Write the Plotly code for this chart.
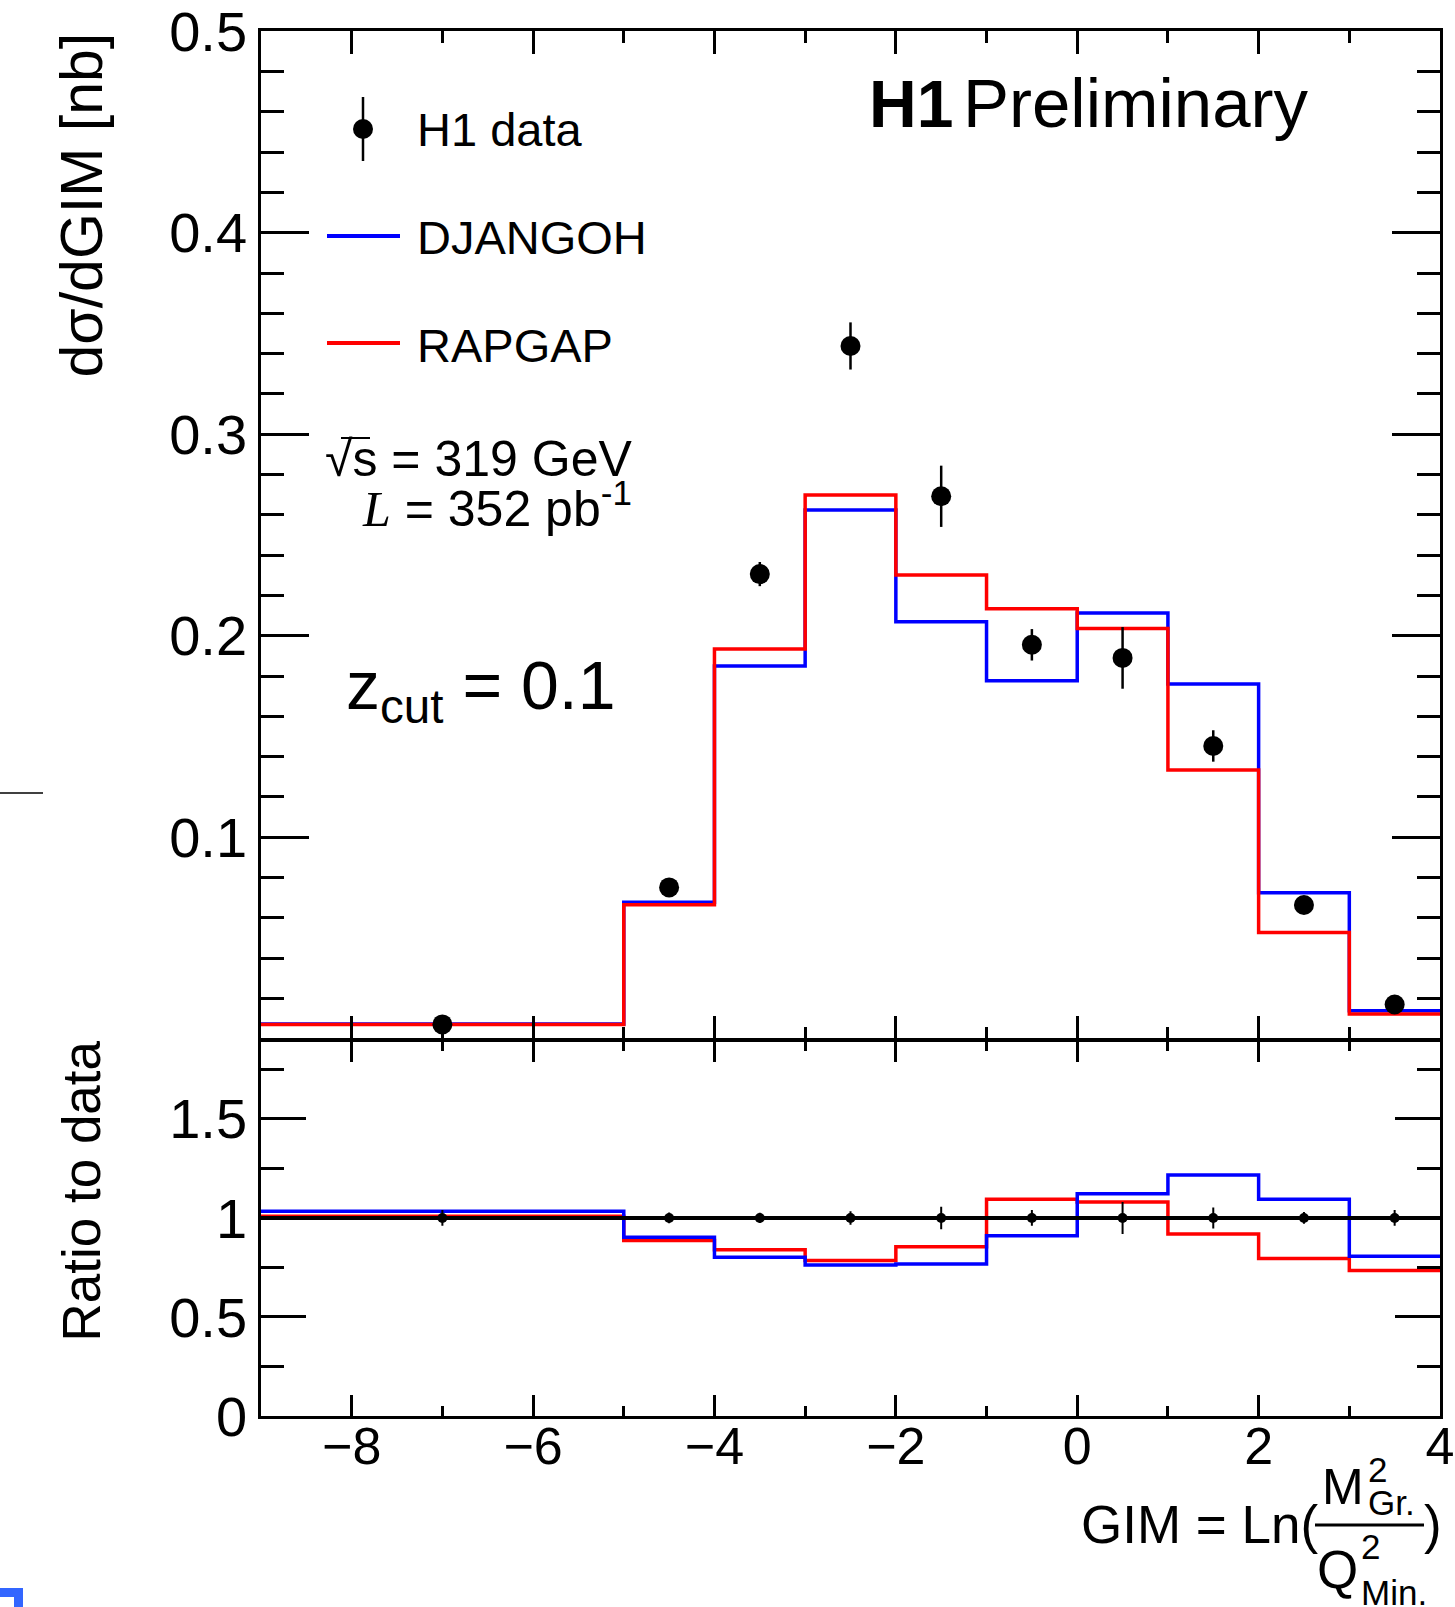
import plotly.graph_objects as go

# ---------------- data ----------------
bin_edges = [-9, -5, -4, -3, -2, -1, 0, 1, 2, 3, 4]
data_x = [-7, -4.5, -3.5, -2.5, -1.5, -0.5, 0.5, 1.5, 2.5, 3.5]
data_y = [0.0071, 0.0751, 0.2306, 0.3438, 0.2692, 0.1955, 0.1890, 0.1453, 0.0664, 0.0170]
data_err = [0.0003, 0.0020, 0.0060, 0.0117, 0.0152, 0.0078, 0.0153, 0.0078, 0.0020, 0.0007]
djangoh_y = [0.0073, 0.0677, 0.1850, 0.2624, 0.2069, 0.1776, 0.2113, 0.1761, 0.0725, 0.0139]
rapgap_y = [0.0071, 0.0665, 0.1934, 0.2698, 0.2301, 0.2134, 0.2036, 0.1334, 0.0527, 0.0123]
ratio_djangoh = [1.034, 0.903, 0.802, 0.762, 0.768, 0.910, 1.122, 1.217, 1.094, 0.806]
ratio_rapgap = [1.009, 0.886, 0.839, 0.785, 0.854, 1.094, 1.080, 0.919, 0.795, 0.734]
ratio_data = [1.0, 1.0, 1.0, 1.0, 1.0, 1.0, 1.0, 1.0, 1.0, 1.0]
ratio_err = [0.040, 0.027, 0.026, 0.034, 0.057, 0.040, 0.081, 0.053, 0.030, 0.040]

upper_ytick_vals = [0.1, 0.2, 0.3, 0.4, 0.5]
upper_ytick_text = ["0.1", "0.2", "0.3", "0.4", "0.5"]
lower_ytick_vals = [0, 0.5, 1, 1.5]
lower_ytick_text = ["0", "0.5", "1", "1.5"]

# ---------------- geometry ----------------
W, H = 1455, 1607
L, R, T, B = 261, 15, 31, 191
PW, PH = W - L - R, H - T - B
SPLIT_Y = 1040
LW = 2.5
split = (H - B - SPLIT_Y) / PH
half = (LW / 2) / PH


def px(X):
    return (X - L) / PW


def py(Y):
    return (H - B - Y) / PH


FONT = "Liberation Sans, Arial, Helvetica, sans-serif"
BLUE = "#0000ff"
RED = "#ff0000"


def step(vals):
    return vals + [vals[-1]]


fig = go.Figure()

# upper panel histograms
fig.add_trace(go.Scatter(x=bin_edges, y=step(djangoh_y), mode="lines", line_shape="hv",
                         line=dict(color=BLUE, width=3.5), xaxis="x", yaxis="y", showlegend=False))
fig.add_trace(go.Scatter(x=bin_edges, y=step(rapgap_y), mode="lines", line_shape="hv",
                         line=dict(color=RED, width=3.5), xaxis="x", yaxis="y", showlegend=False))
fig.add_trace(go.Scatter(x=data_x, y=data_y, mode="markers",
                         marker=dict(color="black", size=20),
                         error_y=dict(type="data", array=data_err, color="black", thickness=2.5, width=0),
                         xaxis="x", yaxis="y", showlegend=False))

# lower panel
fig.add_trace(go.Scatter(x=bin_edges, y=step(ratio_rapgap), mode="lines", line_shape="hv",
                         line=dict(color=RED, width=3.5), xaxis="x2", yaxis="y2", showlegend=False))
fig.add_trace(go.Scatter(x=bin_edges, y=step(ratio_djangoh), mode="lines", line_shape="hv",
                         line=dict(color=BLUE, width=3.5), xaxis="x2", yaxis="y2", showlegend=False))
fig.add_trace(go.Scatter(x=[bin_edges[0], bin_edges[-1]], y=[ratio_data[0], ratio_data[-1]], mode="lines",
                         line=dict(color="black", width=4), xaxis="x2", yaxis="y2", showlegend=False))
fig.add_trace(go.Scatter(x=data_x, y=ratio_data, mode="markers",
                         marker=dict(color="black", size=10),
                         error_y=dict(type="data", array=ratio_err, color="black", thickness=2, width=0),
                         xaxis="x2", yaxis="y2", showlegend=False))

axcommon = dict(showline=True, linewidth=LW, linecolor="black", mirror="ticks",
                ticks="inside", tickwidth=2.5, tickcolor="black", showgrid=False, zeroline=False,
                ticklabeloverflow="allow")

fig.update_layout(
    width=W, height=H,
    margin=dict(l=L, r=R, t=T, b=B, autoexpand=False),
    paper_bgcolor="white", plot_bgcolor="white",
    font=dict(family=FONT, color="black"),
    showlegend=False,
    xaxis=dict(domain=[0, 1], anchor="y", range=[-9, 4], showticklabels=False,
               tick0=0, dtick=2, ticklen=23,
               minor=dict(dtick=1, tick0=0, ticklen=12, ticks="inside", tickwidth=2.5, tickcolor="black"),
               **axcommon),
    xaxis2=dict(domain=[0, 1], anchor="y2", range=[-9, 4], showticklabels=True,
                tick0=0, dtick=2, ticklen=21, tickfont=dict(size=52, family=FONT),
                ticklabelstandoff=-17,
                minor=dict(dtick=1, tick0=0, ticklen=10, ticks="inside", tickwidth=2.5, tickcolor="black"),
                **axcommon),
    yaxis=dict(domain=[split + half, 1], anchor="x", range=[0, 0.5001],
               tickmode="array", tickvals=upper_ytick_vals, ticktext=upper_ytick_text,
               ticklen=48, tickfont=dict(size=56, family=FONT), ticklabelstandoff=0,
               minor=dict(dtick=0.02, tick0=0, ticklen=23, ticks="inside", tickwidth=2.5, tickcolor="black"),
               **axcommon),
    yaxis2=dict(domain=[0, split - half], anchor="x2", range=[0, 1.892],
                tickmode="array", tickvals=lower_ytick_vals, ticktext=lower_ytick_text,
                ticklen=45, tickfont=dict(size=56, family=FONT), ticklabelstandoff=0,
                minor=dict(dtick=0.25, tick0=0, ticklen=23, ticks="inside", tickwidth=2.5, tickcolor="black"),
                **axcommon),
)

shapes = []
# legend symbols
shapes.append(dict(type="line", xref="paper", yref="paper", x0=px(363), x1=px(363), y0=py(97), y1=py(161),
                   line=dict(color="black", width=2.5)))
shapes.append(dict(type="circle", xref="paper", yref="paper", x0=px(353), x1=px(373), y0=py(139), y1=py(119),
                   fillcolor="black", line=dict(color="black", width=0)))
shapes.append(dict(type="line", xref="paper", yref="paper", x0=px(327), x1=px(400), y0=py(236), y1=py(236),
                   line=dict(color=BLUE, width=4)))
shapes.append(dict(type="line", xref="paper", yref="paper", x0=px(327), x1=px(400), y0=py(343), y1=py(343),
                   line=dict(color=RED, width=4)))
# square-root bar over "s"
shapes.append(dict(type="line", xref="paper", yref="paper", x0=px(341), x1=px(370), y0=py(438), y1=py(438),
                   line=dict(color="black", width=2)))
# fraction bar in x title
shapes.append(dict(type="line", xref="paper", yref="paper", x0=px(1315), x1=px(1424), y0=py(1525), y1=py(1525),
                   line=dict(color="black", width=3)))
# stray marks at page edges (present in the reference)
shapes.append(dict(type="line", xref="paper", yref="paper", x0=px(0), x1=px(43), y0=py(793), y1=py(793),
                   line=dict(color="black", width=1.5)))
shapes.append(dict(type="rect", xref="paper", yref="paper", x0=px(0), x1=px(23), y0=py(1588), y1=py(1597),
                   fillcolor="#3366ff", line=dict(width=0)))
shapes.append(dict(type="rect", xref="paper", yref="paper", x0=px(14), x1=px(23), y0=py(1588), y1=py(1607),
                   fillcolor="#3366ff", line=dict(width=0)))
fig.update_layout(shapes=shapes)


def ann(text, X, Y, size, xanchor="left", yanchor="middle", angle=0):
    fig.add_annotation(text=text, x=px(X), y=py(Y), xref="paper", yref="paper",
                       xanchor=xanchor, yanchor=yanchor, showarrow=False, textangle=angle,
                       font=dict(size=size, family=FONT, color="black"), borderpad=0)


ann("H1 data", 416, 129, 47)
ann("DJANGOH", 416, 237, 47)
ann("RAPGAP", 416, 345, 47)
ann("<b>H1</b>", 868, 104, 66)
ann("Preliminary", 962, 104, 69)
ann("√s = 319 GeV", 633, 459, 50, xanchor="right")
ann("<span style='font-family:Liberation Serif, Times New Roman, serif'><i>L</i></span> = 352 pb<sup>-1</sup>",
    633, 505, 50, xanchor="right")
ann("z<sub>cut</sub> = 0.1", 617, 690, 68, xanchor="right")
ann("dσ/dGIM [nb]", 81, 32, 59, xanchor="center", yanchor="top", angle=-90)
ann("Ratio to data", 81, 1040, 53, xanchor="center", yanchor="top", angle=-90)
# x-axis title: GIM = Ln(M^2_Gr. / Q^2_Min.)
ann("GIM = Ln(", 1080, 1524, 53)
ann("M", 1321, 1487, 50)
ann("2", 1367, 1469, 35)
ann("Gr.", 1367, 1502, 35)
ann("Q", 1316, 1569, 53)
ann("2", 1360, 1546, 35)
ann("Min.", 1360, 1592, 35)
ann(")", 1423, 1524, 53)

fig.write_html("out.html")
